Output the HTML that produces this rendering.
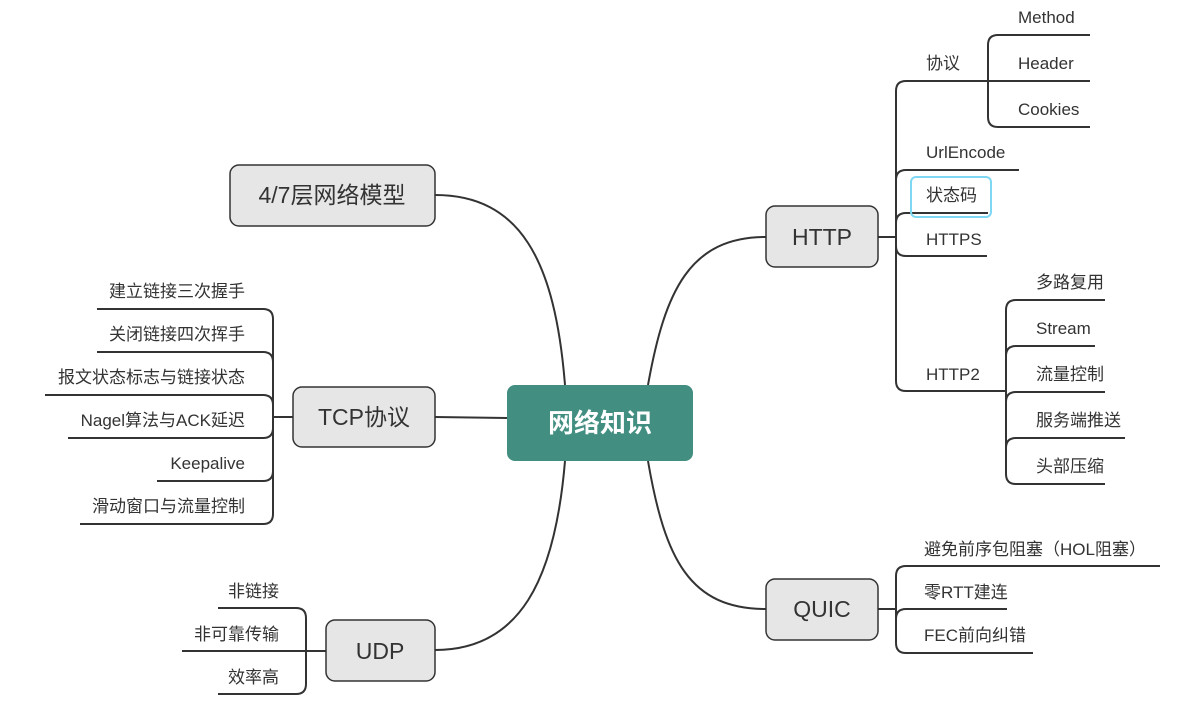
<!DOCTYPE html>
<html><head><meta charset="utf-8"><style>
html,body{margin:0;padding:0;background:#fff;}
svg{display:block;}
text{font-family:"Liberation Sans","Noto Sans CJK SC",sans-serif;fill:#333;}
.c{font-size:17px;}
.n{font-size:23px;}
</style></head><body>
<svg width="1178" height="712" viewBox="0 0 1178 712">
<g fill="none" stroke="#333" stroke-width="2">
<!-- main connectors -->
<path d="M565,385 C555,260 520,195 435,195"/>
<path d="M648,385 C665,290 690,237 766,237"/>
<path d="M507,418 L435,417"/>
<path d="M565,461 C555,580 520,650 435,650"/>
<path d="M648,461 C665,560 690,609 766,609"/>
<!-- HTTP -->
<path d="M878,237 H896"/>
<path d="M1019,170 H906 Q896,170 896,180 M896,91 Q896,81 906,81 H988 M896,381 Q896,391 906,391 H1006"/>
<path d="M896,91 V381"/>
<path d="M896,223 Q896,213 906,213 H988 M896,246 Q896,256 906,256 H987"/>
<path d="M1090,35 H998 Q988,35 988,45 V117 Q988,127 998,127 H1090 M988,81 H1090"/>
<path d="M1105,300 H1016 Q1006,300 1006,310 V474 Q1006,484 1016,484 H1105 M1006,356 Q1006,346 1016,346 H1095 M1006,402 Q1006,392 1016,392 H1105 M1006,448 Q1006,438 1016,438 H1125"/>
<!-- QUIC -->
<path d="M878,609 H896"/>
<path d="M1160,566 H906 Q896,566 896,576 V643 Q896,653 906,653 H1033 M896,619 Q896,609 906,609 H1007"/>
<!-- TCP -->
<path d="M293,417 H273"/>
<path d="M97,309 H263 Q273,309 273,319 V514 Q273,524 263,524 H80 M97,352 H263 Q273,352 273,362 M45,395 H263 Q273,395 273,405 M68,438 H263 Q273,438 273,428 M157,481 H263 Q273,481 273,471"/>
<!-- UDP -->
<path d="M326,651 H306"/>
<path d="M218,608 H296 Q306,608 306,618 V684 Q306,694 296,694 H218 M182,651 H306"/>
</g>
<!-- nodes -->
<rect x="507" y="385" width="186" height="76" rx="8" fill="#428f81"/>
<text x="600" y="432" text-anchor="middle" style="font-size:26px;font-weight:bold;fill:#fff">网络知识</text>
<g fill="#e6e6e6" stroke="#333" stroke-width="1.5">
<rect x="230" y="165" width="205" height="61" rx="9"/>
<rect x="766" y="206" width="112" height="61" rx="9"/>
<rect x="293" y="387" width="142" height="60" rx="9"/>
<rect x="326" y="620" width="109" height="61" rx="9"/>
<rect x="766" y="579" width="112" height="61" rx="9"/>
</g>
<text class="n" x="332" y="203" text-anchor="middle">4/7层网络模型</text>
<text class="n" x="822" y="245" text-anchor="middle">HTTP</text>
<text class="n" x="364" y="425" text-anchor="middle">TCP协议</text>
<text class="n" x="380" y="659" text-anchor="middle">UDP</text>
<text class="n" x="822" y="617" text-anchor="middle">QUIC</text>
<!-- HTTP children -->
<text class="c" x="926" y="69">协议</text>
<text class="c" x="1018" y="23">Method</text>
<text class="c" x="1018" y="69">Header</text>
<text class="c" x="1018" y="115">Cookies</text>
<text class="c" x="926" y="158">UrlEncode</text>
<rect x="911" y="177" width="80" height="40" rx="5" fill="none" stroke="#7fd8f3" stroke-width="2"/>
<text class="c" x="926" y="201">状态码</text>
<text class="c" x="926" y="245">HTTPS</text>
<text class="c" x="926" y="380">HTTP2</text>
<text class="c" x="1036" y="288">多路复用</text>
<text class="c" x="1036" y="334">Stream</text>
<text class="c" x="1036" y="380">流量控制</text>
<text class="c" x="1036" y="426">服务端推送</text>
<text class="c" x="1036" y="472">头部压缩</text>
<!-- QUIC children -->
<text class="c" x="924" y="555">避免前序包阻塞（HOL阻塞）</text>
<text class="c" x="924" y="598">零RTT建连</text>
<text class="c" x="924" y="641">FEC前向纠错</text>
<!-- TCP children -->
<g text-anchor="end">
<text class="c" x="245" y="297">建立链接三次握手</text>
<text class="c" x="245" y="340">关闭链接四次挥手</text>
<text class="c" x="245" y="383">报文状态标志与链接状态</text>
<text class="c" x="245" y="426">Nagel算法与ACK延迟</text>
<text class="c" x="245" y="469">Keepalive</text>
<text class="c" x="245" y="512">滑动窗口与流量控制</text>
<text class="c" x="279" y="597">非链接</text>
<text class="c" x="279" y="640">非可靠传输</text>
<text class="c" x="279" y="683">效率高</text>
</g>
</svg>
</body></html>
